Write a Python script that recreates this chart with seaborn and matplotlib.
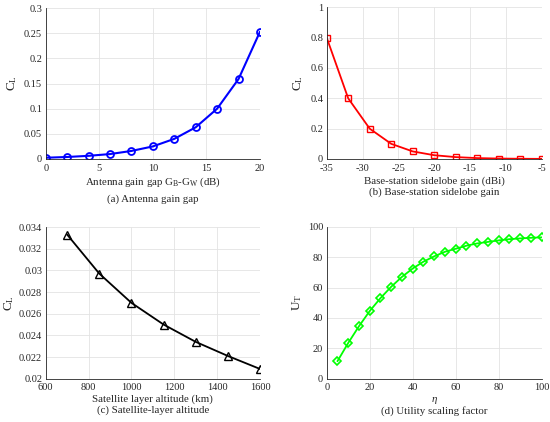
import numpy as np
import pandas as pd
import matplotlib
matplotlib.use("Agg")
import matplotlib.pyplot as plt
import seaborn as sns

# (a) Antenna gain gap
gap_db = [0, 2, 4, 6, 8, 10, 12, 14, 16, 18, 20]
cl_gap = [0.0025, 0.004, 0.0063, 0.0098, 0.016, 0.025, 0.04, 0.063, 0.1, 0.159, 0.253]
# (b) Base-station sidelobe gain
side_dbi = [-35, -32, -29, -26, -23, -20, -17, -14, -11, -8, -5]
cl_side = [0.8, 0.4, 0.2, 0.1, 0.05, 0.025, 0.0125, 0.006, 0.003, 0.0016, 0.0008]
# (c) Satellite-layer altitude
alt_km = [700, 850, 1000, 1150, 1300, 1450, 1600]
cl_alt = [0.0333, 0.0297, 0.0270, 0.0250, 0.0234, 0.0221, 0.0209]
# (d) Utility scaling factor
eta = [5, 10, 15, 20, 25, 30, 35, 40, 45, 50, 55, 60, 65, 70, 75, 80, 85, 90, 95, 100]
ut = [11.5, 23.5, 34.5, 44.5, 53, 60.5, 67, 72.5, 77, 80.5, 83.5, 85.5, 87.5, 89, 90,
      91, 91.8, 92.3, 92.7, 93]

sns.set_theme(style="whitegrid")
plt.rcParams['font.family'] = ['Liberation Serif', 'DejaVu Serif']
plt.rcParams['mathtext.fontset'] = 'custom'
plt.rcParams['mathtext.rm'] = 'Liberation Serif'
plt.rcParams['mathtext.it'] = 'Liberation Serif:italic'
plt.rcParams['axes.unicode_minus'] = False
plt.rcParams['font.size'] = 7.5

fig = plt.figure(figsize=(5.5, 4.22), dpi=100)
W, H = 550, 422
TXT = '#262626'

def ax_at(x0, x1, ytop, ybot):
    ax = fig.add_axes([x0 / W, 1 - ybot / H, (x1 - x0) / W, (ybot - ytop) / H])
    ax._px = (x0, x1, ytop, ybot)
    return ax

axa = ax_at(45.7, 260, 8, 159)
axb = ax_at(326.7, 541.7, 7.3, 159)
axc = ax_at(45.7, 260, 227, 378.7)
axd = ax_at(326.7, 541.7, 226.7, 378.7)

def style(ax, xlab, ylab, cap, xlab_y, cap_y, ylab_x):
    x0, x1, ytop, ybot = ax._px
    for s in ['top', 'right']:
        ax.spines[s].set_visible(False)
    for s in ['left', 'bottom']:
        ax.spines[s].set_visible(True)
        ax.spines[s].set_color(TXT)
        ax.spines[s].set_linewidth(0.6)
    ax.grid(True, color='#e3e3e3', linewidth=0.6)
    ax.tick_params(axis='both', direction='in', length=2.5, width=0.5,
                   colors=TXT, labelsize=7.5)
    ax.tick_params(axis='x', pad=3.3)
    ax.tick_params(axis='y', pad=2.5)
    ax.set_xlabel(xlab, fontsize=7.8, color=TXT)
    ax.xaxis.label.set_va('center')
    ax.xaxis.set_label_coords(0.5, (ybot - xlab_y) / (ybot - ytop))
    ax.set_ylabel(ylab, fontsize=9.5, color=TXT)
    ax.yaxis.label.set_va('center')
    ax.yaxis.set_label_coords((ylab_x - x0) / (x1 - x0), 0.5)
    ax.text(0.5, (ybot - cap_y) / (ybot - ytop), cap, transform=ax.transAxes,
            ha='center', va='center', fontsize=7.8, color=TXT)
    ax.set_facecolor('white')

dfa = pd.DataFrame({'x': gap_db, 'y': cl_gap})
sns.lineplot(data=dfa, x='x', y='y', ax=axa, color='#0000ff', marker='o',
             markersize=5, markerfacecolor='none', markeredgecolor='#0000ff',
             markeredgewidth=1.3, linewidth=1.5)
axa.set_xlim(0, 20); axa.set_ylim(0, 0.3)
axa.set_xticks([0, 5, 10, 15, 20])
axa.set_yticks([0, 0.05, 0.1, 0.15, 0.2, 0.25, 0.3])
axa.set_yticklabels(['0', '0.05', '0.1', '0.15', '0.2', '0.25', '0.3'])
style(axa, r'Antenna gain gap G$_{\rm B}$-G$_{\rm W}$ (dB)', r'C$_{\rm L}$',
      '(a) Antenna gain gap', 182, 199, 12)

dfb = pd.DataFrame({'x': side_dbi, 'y': cl_side})
sns.lineplot(data=dfb, x='x', y='y', ax=axb, color='#ff0000', marker='s',
             markersize=4.5, markerfacecolor='none', markeredgecolor='#ff0000',
             markeredgewidth=1.0, linewidth=1.3)
axb.set_xlim(-35, -5); axb.set_ylim(0, 1)
axb.set_xticks([-35, -30, -25, -20, -15, -10, -5])
axb.set_yticks([0, 0.2, 0.4, 0.6, 0.8, 1])
axb.set_yticklabels(['0', '0.2', '0.4', '0.6', '0.8', '1'])
style(axb, 'Base-station sidelobe gain (dBi)', r'C$_{\rm L}$',
      '(b) Base-station sidelobe gain', 181, 192, 298)

dfc = pd.DataFrame({'x': alt_km, 'y': cl_alt})
sns.lineplot(data=dfc, x='x', y='y', ax=axc, color='black', marker='^',
             markersize=5.5, markerfacecolor='none', markeredgecolor='black',
             markeredgewidth=1.0, linewidth=1.3)
axc.set_xlim(600, 1600); axc.set_ylim(0.02, 0.034)
axc.set_xticks([600, 800, 1000, 1200, 1400, 1600])
axc.set_yticks([0.02, 0.022, 0.024, 0.026, 0.028, 0.03, 0.032, 0.034])
axc.set_yticklabels(['0.02', '0.022', '0.024', '0.026', '0.028', '0.03', '0.032', '0.034'])
style(axc, 'Satellite layer altitude (km)', r'C$_{\rm L}$',
      '(c) Satellite-layer altitude', 399, 410, 9)

dfd = pd.DataFrame({'x': eta, 'y': ut})
sns.lineplot(data=dfd, x='x', y='y', ax=axd, color='#00ff00', marker='D',
             markersize=4.5, markerfacecolor='none', markeredgecolor='#00ff00',
             markeredgewidth=1.2, linewidth=1.3)
axd.set_xlim(0, 100); axd.set_ylim(0, 100)
axd.set_xticks([0, 20, 40, 60, 80, 100])
axd.set_yticks([0, 20, 40, 60, 80, 100])
style(axd, r'$\it{\eta}$', r'U$_{\rm T}$', '(d) Utility scaling factor', 400, 411, 297)

fig.savefig('out.png', dpi=100, facecolor='white')
